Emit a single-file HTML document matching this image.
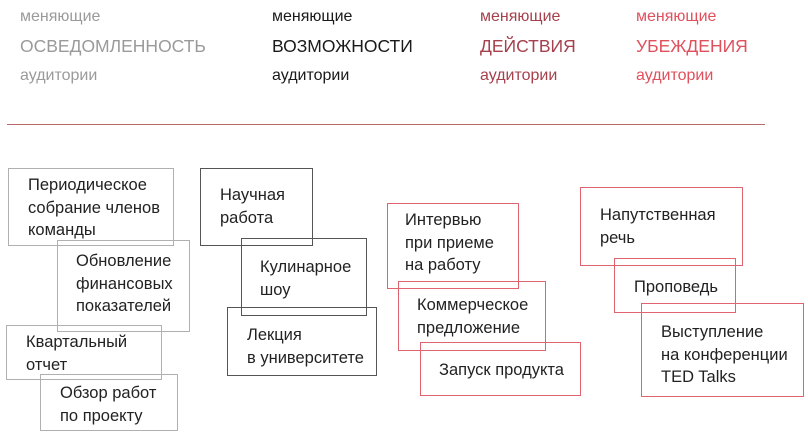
<!DOCTYPE html>
<html><head><meta charset="utf-8"><style>
body{margin:0;width:808px;height:433px;background:#fff;position:relative;overflow:hidden;font-family:"Liberation Sans",sans-serif}
.t{position:absolute;white-space:nowrap;line-height:1}
.s{font-size:16px}
.b{font-size:17.5px}
.g{color:#9a9a9a}.k{color:#1a1a1a}.d{color:#a5404c}.r{color:#e0505c}
.box{position:absolute;box-sizing:border-box;border:1px solid}
.bg{border-color:#b0b0b0}.bk{border-color:#555}.br{border-color:#e06470}
.l{position:absolute;font-size:16.5px;line-height:22.5px;color:#222;white-space:nowrap}
</style></head><body>
<div class="t s g" style="left:20px;top:9px">меняющие</div>
<div class="t b g" style="left:20px;top:38px">ОСВЕДОМЛЕННОСТЬ</div>
<div class="t s g" style="left:20px;top:68px">аудитории</div>
<div class="t s k" style="left:272px;top:9px">меняющие</div>
<div class="t b k" style="left:272px;top:38px">ВОЗМОЖНОСТИ</div>
<div class="t s k" style="left:272px;top:68px">аудитории</div>
<div class="t s d" style="left:480px;top:9px">меняющие</div>
<div class="t b d" style="left:480px;top:38px">ДЕЙСТВИЯ</div>
<div class="t s d" style="left:480px;top:68px">аудитории</div>
<div class="t s r" style="left:636px;top:9px">меняющие</div>
<div class="t b r" style="left:636px;top:38px">УБЕЖДЕНИЯ</div>
<div class="t s r" style="left:636px;top:68px">аудитории</div>
<div style="position:absolute;left:7px;top:124px;width:758px;height:1px;background:#b86a6a"></div>

<div class="box bg" style="left:8px;top:168px;width:166px;height:78px"></div>
<div class="l" style="left:28px;top:174px">Периодическое<br>собрание членов<br>команды</div>
<div class="box bg" style="left:57px;top:240px;width:133px;height:92px"></div>
<div class="l" style="left:76px;top:250px">Обновление<br>финансовых<br>показателей</div>
<div class="box bg" style="left:6px;top:325px;width:156px;height:55px"></div>
<div class="l" style="left:26px;top:331px">Квартальный<br>отчет</div>
<div class="box bg" style="left:40px;top:374px;width:138px;height:57px"></div>
<div class="l" style="left:60px;top:382px">Обзор работ<br>по проекту</div>

<div class="box bk" style="left:200px;top:168px;width:113px;height:78px"></div>
<div class="l" style="left:220px;top:184px">Научная<br>работа</div>
<div class="box bk" style="left:241px;top:238px;width:126px;height:78px"></div>
<div class="l" style="left:260px;top:256px">Кулинарное<br>шоу</div>
<div class="box bk" style="left:227px;top:307px;width:150px;height:69px"></div>
<div class="l" style="left:247px;top:324px">Лекция<br>в университете</div>

<div class="box br" style="left:387px;top:203px;width:132px;height:86px"></div>
<div class="l" style="left:405px;top:209px">Интервью<br>при приеме<br>на работу</div>
<div class="box br" style="left:398px;top:281px;width:148px;height:70px"></div>
<div class="l" style="left:417px;top:294px">Коммерческое<br>предложение</div>
<div class="box br" style="left:420px;top:342px;width:161px;height:54px"></div>
<div class="l" style="left:439px;top:359px">Запуск продукта</div>

<div class="box br" style="left:580px;top:187px;width:163px;height:79px"></div>
<div class="l" style="left:600px;top:204px">Напутственная<br>речь</div>
<div class="box br" style="left:614px;top:258px;width:122px;height:55px"></div>
<div class="l" style="left:634px;top:276px">Проповедь</div>
<div class="box br" style="left:641px;top:303px;width:163px;height:94px"></div>
<div class="l" style="left:661px;top:321px">Выступление<br>на конференции<br>TED Talks</div>
</body></html>
